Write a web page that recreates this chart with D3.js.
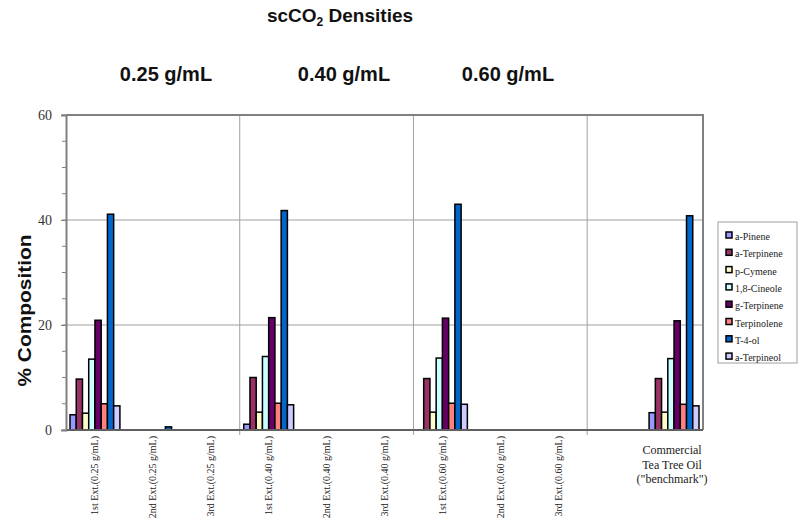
<!DOCTYPE html>
<html>
<head>
<meta charset="utf-8">
<script src="https://cdn.jsdelivr.net/npm/d3@7"></script>
<style>
    body { margin: 0; background: #fff; }
    svg { display: block; }
</style>
</head>
<body>
<svg id="chart" width="800" height="529"></svg>
<script>

const categories = [
    "1st Ext.(0.25 g/mL)", "2nd Ext.(0.25 g/mL)", "3rd Ext.(0.25 g/mL)",
    "1st Ext.(0.40 g/mL)", "2nd Ext.(0.40 g/mL)", "3rd Ext.(0.40 g/mL)",
    "1st Ext.(0.60 g/mL)", "2nd Ext.(0.60 g/mL)", "3rd Ext.(0.60 g/mL)",
    "", "Commercial"
];
const benchmarkLabel = ["Commercial", "Tea Tree Oil", "(\"benchmark\")"];
const densityLabels = ["0.25 g/mL", "0.40 g/mL", "0.60 g/mL"];

const compounds = ["a-Pinene", "a-Terpinene", "p-Cymene", "1,8-Cineole",
    "g-Terpinene", "Terpinolene", "T-4-ol", "a-Terpineol"];
const colours = ["#9999FF", "#993366", "#FFFFCC", "#CCFFFF",
    "#660066", "#FF8080", "#0066CC", "#CCCCFF"];

// % composition, one value per category (index 9 is the empty slot)
const aPinene     = [2.9, 0, 0, 1.1, 0, 0, 0,    0, 0, 0, 3.3];
const aTerpinene  = [9.7, 0, 0, 10.0, 0, 0, 9.8, 0, 0, 0, 9.8];
const pCymene     = [3.2, 0, 0, 3.4, 0, 0, 3.4,  0, 0, 0, 3.4];
const cineole     = [13.5, 0, 0, 14.0, 0, 0, 13.7, 0, 0, 0, 13.6];
const gTerpinene  = [20.9, 0, 0, 21.4, 0, 0, 21.3, 0, 0, 0, 20.8];
const terpinolene = [5.0, 0, 0, 5.1, 0, 0, 5.1,  0, 0, 0, 4.9];
const t4ol        = [41.1, 0.6, 0, 41.8, 0, 0, 43.0, 0, 0, 0, 40.8];
const aTerpineol  = [4.6, 0, 0, 4.8, 0, 0, 4.9,  0, 0, 0, 4.6];

const series = [aPinene, aTerpinene, pCymene, cineole, gTerpinene, terpinolene, t4ol, aTerpineol];

const yTicks = [0, 20, 40, 60];
const yMinor = d3.range(0, 61, 5);

const svg = d3.select('#chart');
const plotLeft = 66, plotRight = 703, plotTop = 115, plotBottom = 430;

const x = d3.scaleBand()
    .domain(d3.range(categories.length))
    .range([plotLeft, plotRight]);

const xInner = d3.scaleBand()
    .domain(d3.range(compounds.length))
    .range([4, x.bandwidth() - 4]);

const y = d3.scaleLinear()
    .domain([0, 60])
    .range([plotBottom, plotTop]);

// gridlines
svg.append('g')
    .selectAll('line')
    .data([20, 40])
    .enter().append('line')
    .attr('x1', plotLeft).attr('x2', plotRight)
    .attr('y1', d => y(d)).attr('y2', d => y(d))
    .attr('stroke', '#a0a0a0').attr('stroke-width', 1);

svg.append('g')
    .selectAll('line')
    .data([3, 6, 9])
    .enter().append('line')
    .attr('x1', d => x(d)).attr('x2', d => x(d))
    .attr('y1', plotTop).attr('y2', plotBottom + 5)
    .attr('stroke', '#a0a0a0').attr('stroke-width', 1);

// bars
const barData = [];
series.forEach((vals, s) => {
    vals.forEach((v, c) => {
        if (v > 0) barData.push({ s: s, c: c, v: v });
    });
});

svg.append('g')
    .selectAll('rect')
    .data(barData)
    .enter().append('rect')
    .attr('x', d => x(d.c) + xInner(d.s))
    .attr('y', d => y(d.v))
    .attr('width', xInner.bandwidth())
    .attr('height', d => y(0) - y(d.v))
    .attr('fill', d => colours[d.s])
    .attr('stroke', '#000')
    .attr('stroke-width', 1.5);

// plot frame
svg.append('path')
    .attr('d', `M${plotLeft},${plotTop}H${plotRight}V${plotBottom}`)
    .attr('fill', 'none')
    .attr('stroke', '#808080')
    .attr('stroke-width', 2);

svg.append('line')
    .attr('x1', plotLeft).attr('x2', plotRight)
    .attr('y1', plotBottom).attr('y2', plotBottom)
    .attr('stroke', '#606060').attr('stroke-width', 2);

// y axis
const yAxis = d3.axisLeft(y)
    .tickValues(yTicks)
    .tickSize(5)
    .tickPadding(9);

const yg = svg.append('g')
    .attr('transform', `translate(${plotLeft},0)`)
    .call(yAxis);
yg.select('.domain').attr('stroke', '#808080').attr('stroke-width', 2);
yg.selectAll('.tick line').attr('stroke', '#808080');
yg.selectAll('.tick text')
    .attr('font-family', 'Liberation Serif, Times New Roman, serif')
    .attr('font-size', 14)
    .attr('fill', '#333');

svg.append('g')
    .selectAll('line')
    .data(yMinor)
    .enter().append('line')
    .attr('x1', plotLeft - 4).attr('x2', plotLeft)
    .attr('y1', d => y(d)).attr('y2', d => y(d))
    .attr('stroke', '#808080');

// x labels
svg.append('g')
    .selectAll('text')
    .data(categories.slice(0, 9))
    .enter().append('text')
    .attr('transform', (d, i) => `translate(${x(i) + x.bandwidth() / 2 + 3.5},${plotBottom + 6}) rotate(-90)`)
    .attr('text-anchor', 'end')
    .attr('font-family', 'Liberation Serif, Times New Roman, serif')
    .attr('font-size', 10)
    .attr('fill', '#222')
    .text(d => d);

svg.append('text')
    .attr('text-anchor', 'middle')
    .attr('font-family', 'Liberation Serif, Times New Roman, serif')
    .attr('font-size', 12)
    .attr('fill', '#222')
    .selectAll('tspan')
    .data(benchmarkLabel)
    .enter().append('tspan')
    .attr('x', x(10) + x.bandwidth() / 2 - 2)
    .attr('y', (d, i) => 454 + i * 14.5)
    .text(d => d);

// titles
const title = svg.append('text')
    .attr('x', 340).attr('y', 22)
    .attr('text-anchor', 'middle')
    .attr('font-family', 'Liberation Sans, Arial, sans-serif')
    .attr('font-weight', 'bold')
    .attr('font-size', 19)
    .attr('fill', '#111');
title.append('tspan').text('scCO');
title.append('tspan').attr('font-size', 12).attr('dy', 4).text('2');
title.append('tspan').attr('dy', -4).text(' Densities');

svg.append('g')
    .selectAll('text')
    .data(densityLabels)
    .enter().append('text')
    .attr('x', (d, i) => [166, 344, 508][i])
    .attr('y', 81)
    .attr('text-anchor', 'middle')
    .attr('font-family', 'Liberation Sans, Arial, sans-serif')
    .attr('font-weight', 'bold')
    .attr('font-size', 20)
    .attr('fill', '#111')
    .text(d => d);

svg.append('text')
    .attr('transform', `translate(31,${(plotTop + plotBottom) / 2 + 38}) rotate(-90)`)
    .attr('text-anchor', 'middle')
    .attr('font-family', 'Liberation Sans, Arial, sans-serif')
    .attr('font-weight', 'bold')
    .attr('font-size', 19)
    .attr('textLength', 152)
    .attr('lengthAdjust', 'spacingAndGlyphs')
    .attr('fill', '#111')
    .text('% Composition');

// legend
const legend = svg.append('g').attr('transform', 'translate(718,222)');
legend.append('rect')
    .attr('width', 79).attr('height', 141)
    .attr('fill', '#fff')
    .attr('stroke', '#a0a0a0');

const items = legend.selectAll('g')
    .data(compounds)
    .enter().append('g')
    .attr('transform', (d, i) => `translate(8,${10 + i * 17.3})`);

items.append('rect')
    .attr('width', 6).attr('height', 6)
    .attr('fill', (d, i) => colours[i])
    .attr('stroke', '#000')
    .attr('stroke-width', 1.5);

items.append('text')
    .attr('x', 9).attr('y', 8)
    .attr('font-family', 'Liberation Serif, Times New Roman, serif')
    .attr('font-size', 10)
    .attr('fill', '#222')
    .text(d => d);

</script>
</body>
</html>
